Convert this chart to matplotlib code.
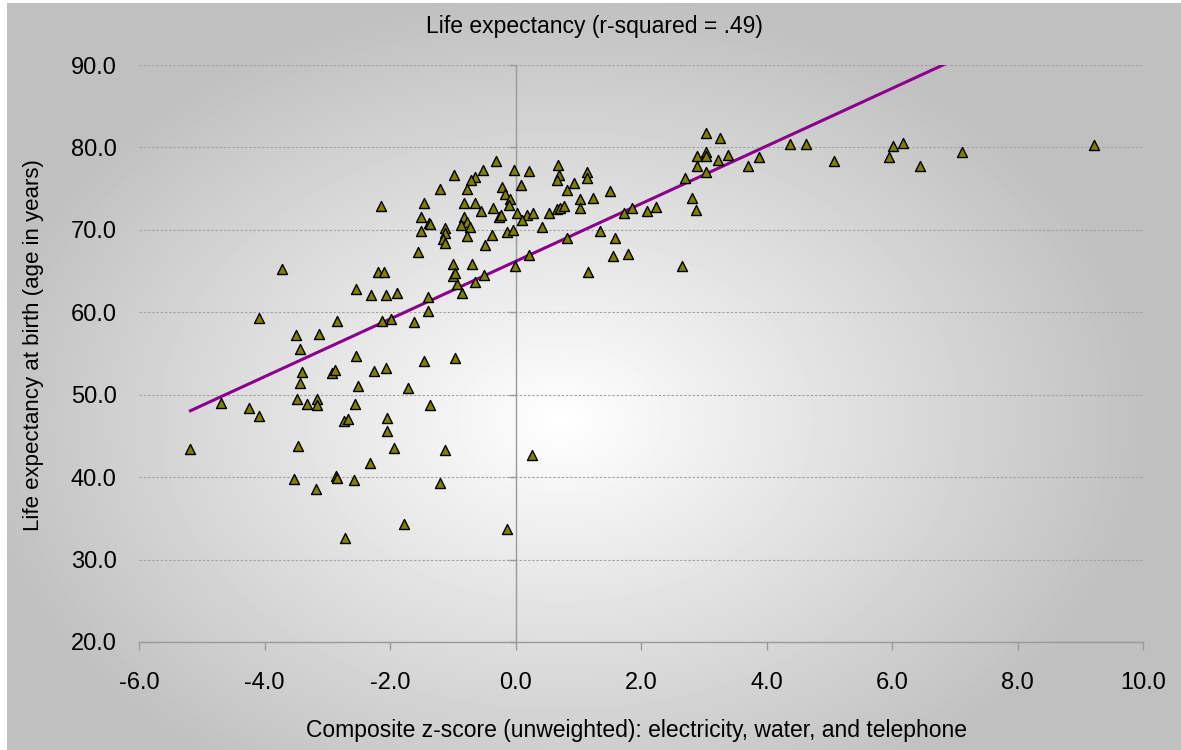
import numpy as np
import matplotlib
import matplotlib.pyplot as plt
from matplotlib.markers import TICKLEFT

plt.rcParams['font.family'] = ['Liberation Sans', 'DejaVu Sans']
plt.rcParams['axes.unicode_minus'] = False

# composite z-score (electricity, water, telephone) per country
z_score = [
    -3.72, -2.19, -2.10, -2.54, -2.30, -2.07, -1.89, -4.08, -2.84, -2.13,
    -1.98, -3.50, -3.13, -3.43, -2.54, -3.41, -2.92, -2.87, -2.25, -2.07,
    -3.44, -2.51, -4.69, -4.24, -4.08, -3.48, -3.32, -3.17, -3.17, -2.56,
    -2.74, -2.67, -2.05, -2.04, -5.18, -3.46, -2.32, -3.53, -2.86, -2.84,
    -2.58, -3.18, -2.72, -1.94, -1.12, 0.26, -1.20, -1.77, -0.14, -1.40,
    -0.94, -0.86, -0.64, -1.62, -1.40, -1.46, -0.97, -1.72, -1.37,
    -0.31, -0.52, -0.02, 0.22, 0.67, 0.70, 0.66, -0.98, -0.64, -0.71,
    -1.21, -0.78, -0.21, -0.17, 0.09, 0.82, -2.14, -1.46, -0.82, -0.64,
    -0.08, -0.10, -0.36, -0.55, 0.02, 0.18, 0.28, 0.53, 0.66, 0.71,
    0.77, -0.27, -0.23, 0.10, -1.50, -1.38, -1.36, -0.82, -0.78, -0.87,
    -0.73, -1.13, -1.13, -1.50, -0.13, -0.04, 0.43, -0.78, -0.37, -1.15,
    -1.12, -0.48, -1.56, 0.21, -0.01, -0.99, -0.69, -0.99, -0.97, -0.50,
    1.14, 1.14, 0.93, 1.51, 1.02, 1.24, 1.02, 0.82, 1.35, 1.58,
    1.55, 1.79, 1.16, 2.65, 1.73, 1.85, 2.09, 2.24, 2.70, 2.81,
    2.88, 2.89, 2.89, 3.03, 3.03, 3.04, 3.03, 3.26, 3.23, 3.39,
    3.70, 3.88, 4.37, 4.63, 5.08, 6.01, 6.17, 5.96, 6.44, 7.12,
    9.22,
]
# life expectancy at birth (years)
life_exp = [
    65.2, 64.9, 64.9, 62.8, 62.05, 62.05, 62.4, 59.3, 59.0, 58.9,
    59.2, 57.2, 57.4, 55.5, 54.7, 52.7, 52.6, 53.0, 52.9, 53.2,
    51.4, 51.1, 49.0, 48.4, 47.4, 49.5, 48.9, 49.5, 48.7, 48.9,
    46.8, 47.0, 47.2, 45.6, 43.4, 43.8, 41.7, 39.8, 40.1, 39.9,
    39.6, 38.6, 32.6, 43.5, 43.3, 42.7, 39.3, 34.3, 33.7, 61.8,
    63.4, 62.3, 63.7, 58.8, 60.1, 54.1, 54.4, 50.8, 48.8,
    78.3, 77.3, 77.3, 77.2, 77.9, 76.7, 76.0, 76.7, 76.4, 76.0,
    75.0, 75.0, 75.2, 74.4, 75.4, 74.8, 72.9, 73.3, 73.25, 73.3,
    73.8, 73.0, 72.6, 72.25, 72.0, 71.8, 72.0, 72.0, 72.5, 72.6,
    72.85, 71.6, 71.8, 71.2, 71.6, 70.8, 70.7, 71.5, 71.0, 70.6,
    70.3, 70.2, 69.65, 69.9, 69.7, 70.0, 70.3, 69.2, 69.4, 68.9,
    68.4, 68.2, 67.3, 66.9, 65.6, 65.8, 65.85, 64.4, 64.8, 64.55,
    77.05, 76.25, 75.7, 74.75, 73.8, 73.9, 72.6, 69.0, 69.9, 69.0,
    66.8, 67.1, 64.9, 65.6, 72.0, 72.6, 72.3, 72.8, 76.25, 73.9,
    72.45, 79.0, 77.8, 81.7, 79.5, 79.0, 77.05, 81.2, 78.5, 79.1,
    77.7, 78.8, 80.45, 80.45, 78.4, 80.2, 80.5, 78.8, 77.8, 79.45,
    80.25,
]

x_ticks = [-6, -4, -2, 0, 2, 4, 6, 8, 10]
x_tick_labels = ['-6.0', '-4.0', '-2.0', '0.0', '2.0', '4.0', '6.0', '8.0', '10.0']
y_ticks = [20, 30, 40, 50, 60, 70, 80, 90]
y_tick_labels = ['20.0', '30.0', '40.0', '50.0', '60.0', '70.0', '80.0', '90.0']

x = np.array(z_score)
y = np.array(life_exp)

fig = plt.figure(figsize=(11.81, 7.5), dpi=100)
fig.patch.set_facecolor('white')

# chart area: grey radial shading, lightest a little below the middle
W, H = 1181, 750
bg = fig.add_axes([7 / W, 0, 1 - 7 / W, 1 - 3 / H], zorder=-5)
gx, gy = np.meshgrid(np.arange(W - 7), np.arange(H - 3))
u = (gx - 553) / 595.0
v = (gy - 417) / 430.0
d = np.clip(np.sqrt(u ** 2 + v ** 2), 0, 1)
shade = 1.0 - 0.25 * d
bg.imshow(shade, cmap='gray', vmin=0, vmax=1, aspect='auto', interpolation='bilinear')
bg.set_axis_off()

ax = fig.add_axes([139 / W, 1 - 642 / H, 1004 / W, 577 / H])
ax.set_facecolor('none')
ax.set_xlim(-6, 10)
ax.set_ylim(20, 90)

ax.set_axisbelow(True)
ax.yaxis.grid(True, linestyle=(0, (2.2, 1.6)), color='#a3a3a3', linewidth=0.8)
for side in ['top', 'right', 'left']:
    ax.spines[side].set_visible(False)
ax.spines['bottom'].set_color('#9a9a9a')
ax.spines['bottom'].set_linewidth(1.0)

ax.set_xticks(x_ticks)
ax.set_xticklabels(x_tick_labels)
ax.set_yticks(y_ticks)
ax.set_yticklabels(y_tick_labels)
ax.tick_params(axis='x', direction='out', length=5.5, width=1.0, color='#9a9a9a',
               pad=16, labelsize=17, labelcolor='black')
ax.tick_params(axis='y', length=0, pad=16, labelsize=17, labelcolor='black')

# value axis crossing at zero, with its own small tick marks
ax.axvline(0, color='#9a9a9a', linewidth=1.0, zorder=1)
ax.plot(np.zeros(len(y_ticks)), y_ticks, linestyle='none', marker=TICKLEFT,
        markersize=5, markeredgewidth=1.0, color='#9a9a9a', zorder=1, clip_on=False)

# least-squares trend line over the data range
slope, intercept = np.polyfit(x, y, 1)
xs = np.array([x.min(), x.max()])
ax.plot(xs, slope * xs + intercept, color='#8b008b', linewidth=2.2, zorder=2)

ax.scatter(x, y, marker='^', s=52, facecolor='#808000', edgecolor='black',
           linewidth=1.0, zorder=3)

fig.text(0.503, 1 - 26 / H, 'Life expectancy (r-squared = .49)', ha='center',
         va='center', fontsize=16.5)
ax.set_xlabel('Composite z-score (unweighted): electricity, water, and telephone',
              fontsize=16.5)
ax.xaxis.set_label_coords(0.496, (642 - 730) / 577)
ax.xaxis.label.set_va('center')
ax.set_ylabel('Life expectancy at birth (age in years)', fontsize=16)
ax.yaxis.set_label_coords((34 - 139) / 1004, 0.515)
ax.yaxis.label.set_va('center')

fig.savefig('out.png', dpi=100)
